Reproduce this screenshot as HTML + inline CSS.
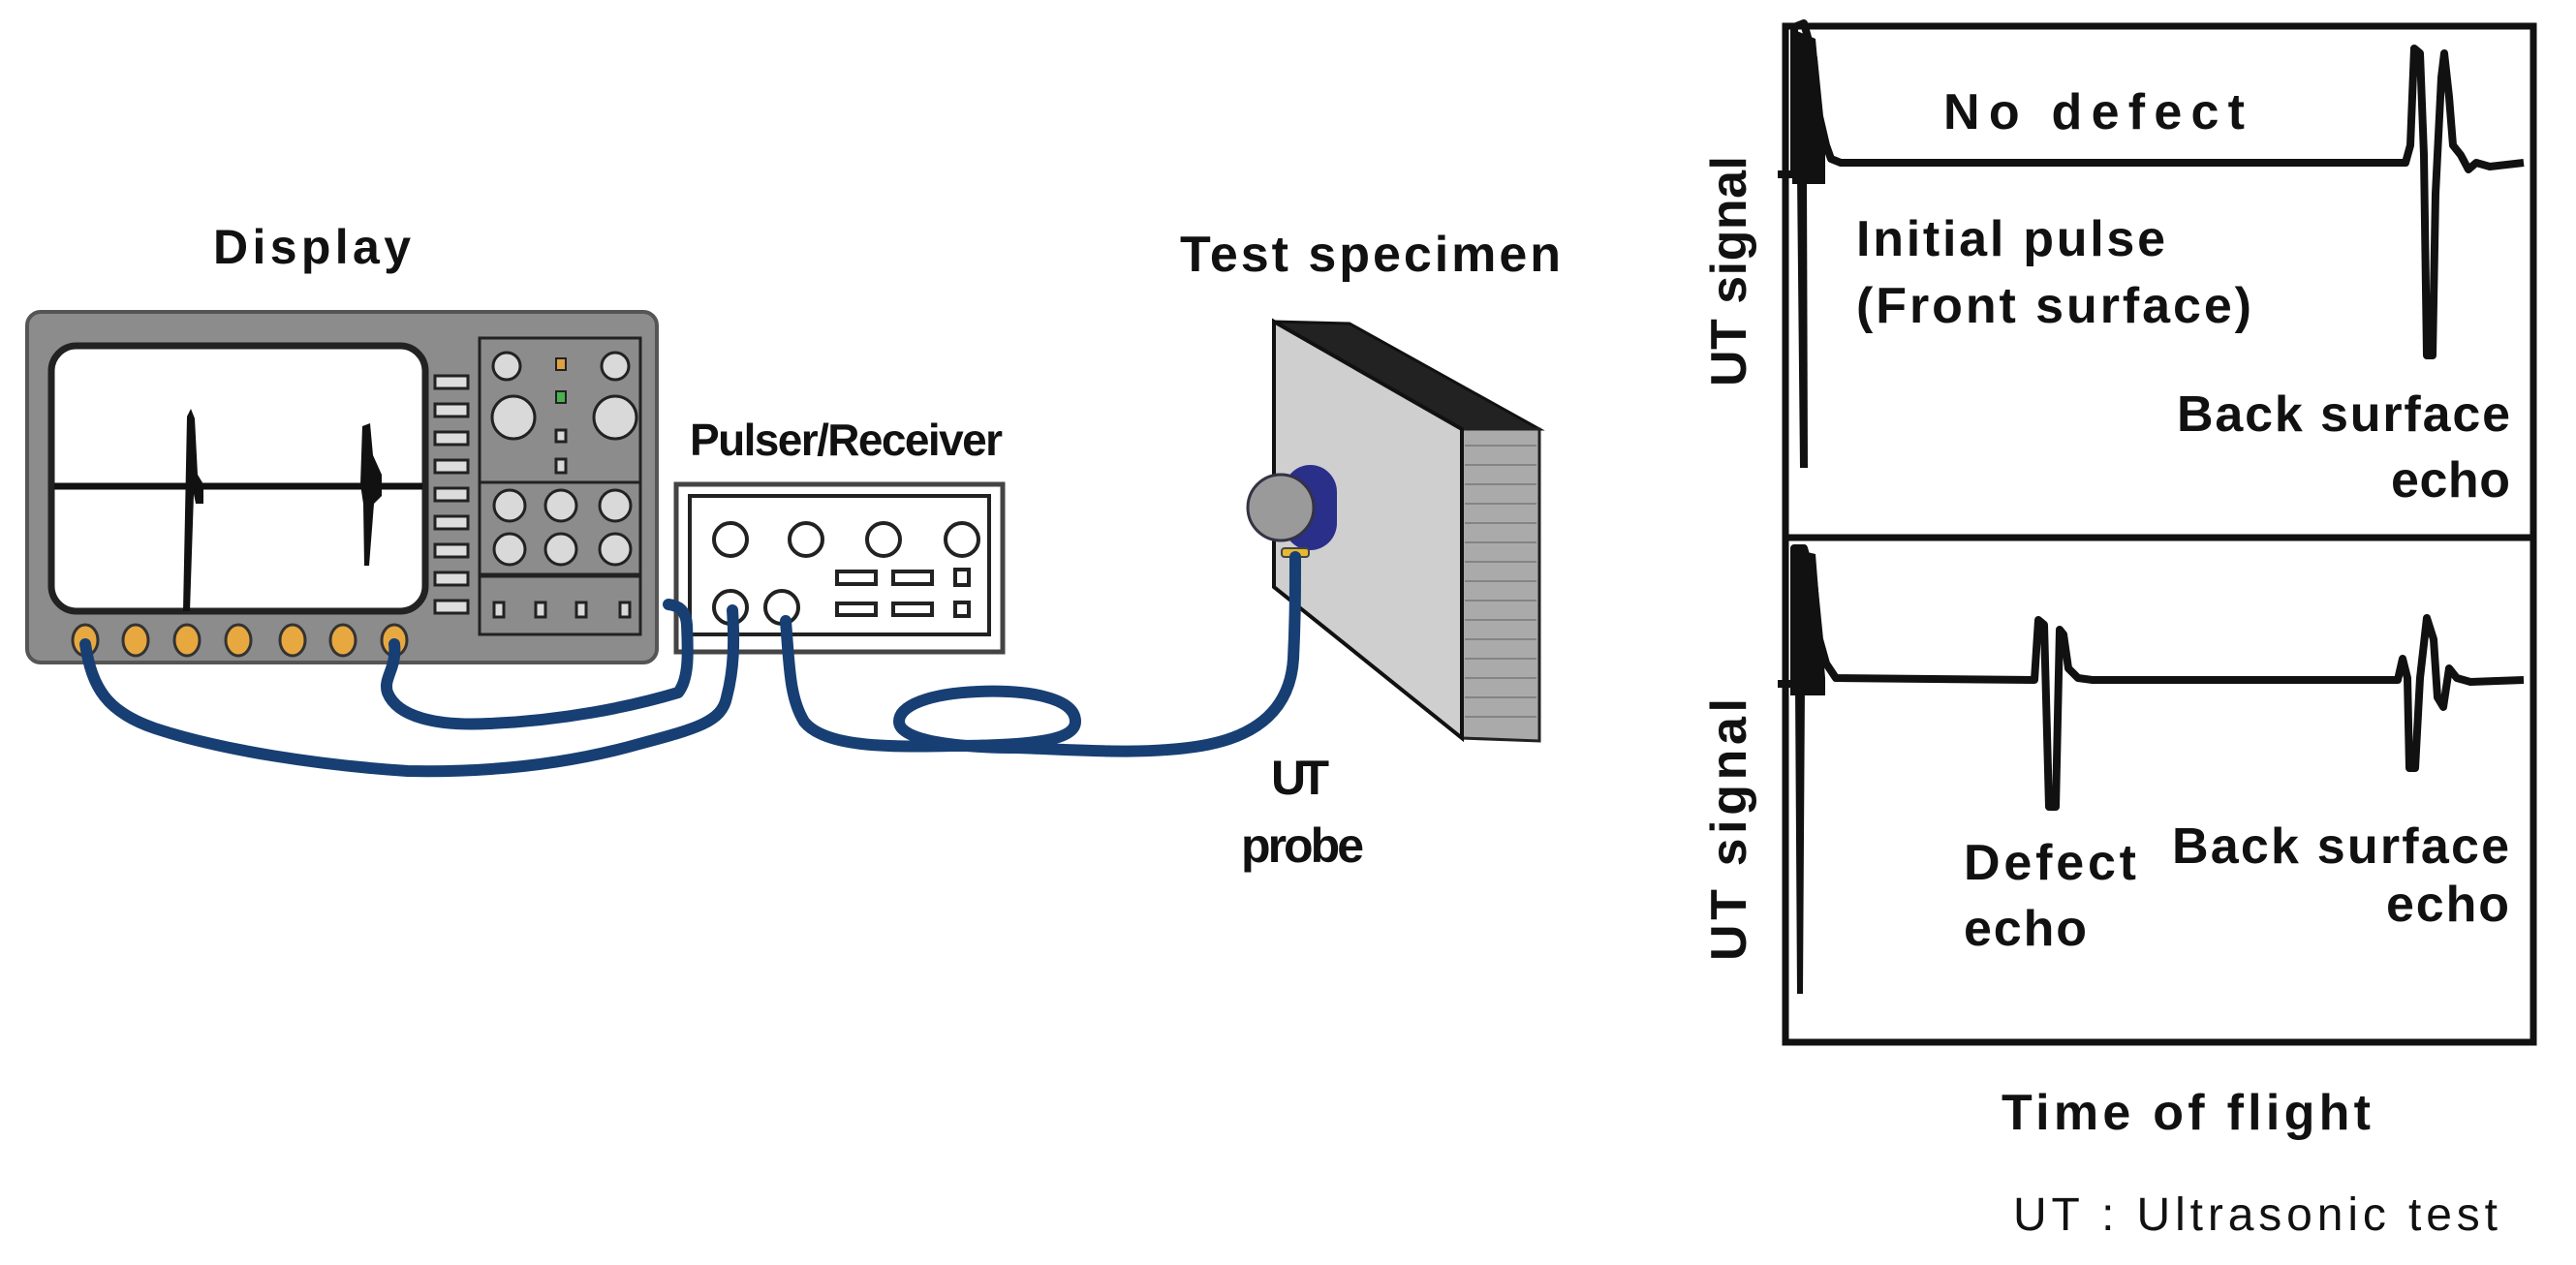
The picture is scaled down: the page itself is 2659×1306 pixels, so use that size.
<!DOCTYPE html>
<html><head><meta charset="utf-8"><style>
html,body{margin:0;padding:0;background:#fff}
svg{display:block}
text{font-family:"Liberation Sans",sans-serif;font-weight:bold;fill:#111}
</style></head><body>
<svg width="2659" height="1306" viewBox="0 0 2659 1306" xmlns="http://www.w3.org/2000/svg">
<!-- Labels left -->
<text x="220" y="272" font-size="50" textLength="204">Display</text>
<text x="712" y="470" font-size="46" textLength="323">Pulser/Receiver</text>
<text x="1218" y="280" font-size="52" textLength="393">Test specimen</text>
<text x="1312" y="820" font-size="50" textLength="60">UT</text>
<text x="1281" y="890" font-size="50" textLength="127">probe</text>

<!-- Oscilloscope -->
<rect x="28" y="322" width="650" height="362" rx="14" fill="#8c8c8c" stroke="#555" stroke-width="4"/>
<rect x="53" y="357" width="386" height="274" rx="26" fill="#fff" stroke="#222" stroke-width="7"/>
<line x1="56" y1="502" x2="436" y2="502" stroke="#111" stroke-width="7"/>
<path d="M189 631 L193 430 L197 422 L201 432 L204 490 L210 500 L210 520 L202 520 L200 510 L196 631 Z" fill="#111"/>
<path d="M372 500 L374 440 L382 437 L385 470 L394 490 L394 512 L386 520 L381 584 L376 584 L375 520 Z" fill="#111"/>
<g fill="#ddd" stroke="#222" stroke-width="3">
<rect x="449" y="388" width="34" height="13"/><rect x="449" y="417" width="34" height="13"/><rect x="449" y="446" width="34" height="13"/><rect x="449" y="475" width="34" height="13"/><rect x="449" y="504" width="34" height="13"/><rect x="449" y="533" width="34" height="13"/><rect x="449" y="562" width="34" height="13"/><rect x="449" y="591" width="34" height="13"/><rect x="449" y="620" width="34" height="13"/>
</g>
<rect x="495" y="349" width="166" height="306" fill="#8c8c8c" stroke="#222" stroke-width="3"/>
<line x1="495" y1="498" x2="661" y2="498" stroke="#222" stroke-width="3"/>
<line x1="495" y1="594" x2="661" y2="594" stroke="#222" stroke-width="5"/>
<g fill="#d9d9d9" stroke="#222" stroke-width="3">
<circle cx="523" cy="378" r="14"/><circle cx="635" cy="378" r="14"/>
<circle cx="530" cy="431" r="22"/><circle cx="635" cy="431" r="22"/>
<circle cx="526" cy="522" r="16"/><circle cx="579" cy="522" r="16"/><circle cx="635" cy="522" r="16"/>
<circle cx="526" cy="567" r="16"/><circle cx="579" cy="567" r="16"/><circle cx="635" cy="567" r="16"/>
<rect x="510" y="622" width="10" height="15"/><rect x="553" y="622" width="10" height="15"/><rect x="595" y="622" width="10" height="15"/><rect x="640" y="622" width="10" height="15"/>
<rect x="574" y="444" width="10" height="12"/><rect x="574" y="474" width="10" height="14"/>
</g>
<rect x="574" y="370" width="10" height="12" fill="#e0a040" stroke="#222" stroke-width="2"/>
<rect x="574" y="404" width="10" height="12" fill="#4caf50" stroke="#222" stroke-width="2"/>
<g fill="#e8a840" stroke="#333" stroke-width="3">
<ellipse cx="88" cy="661" rx="13" ry="16"/><ellipse cx="140" cy="661" rx="13" ry="16"/><ellipse cx="193" cy="661" rx="13" ry="16"/><ellipse cx="246" cy="661" rx="13" ry="16"/><ellipse cx="302" cy="661" rx="13" ry="16"/><ellipse cx="354" cy="661" rx="13" ry="16"/><ellipse cx="407" cy="661" rx="13" ry="16"/>
</g>

<!-- Pulser -->
<rect x="698" y="500" width="337" height="173" fill="#fff" stroke="#444" stroke-width="5"/>
<rect x="712" y="512" width="309" height="143" fill="#fff" stroke="#222" stroke-width="4"/>
<g fill="#fff" stroke="#222" stroke-width="4">
<circle cx="754" cy="557" r="17"/><circle cx="832" cy="557" r="17"/><circle cx="912" cy="557" r="17"/><circle cx="993" cy="557" r="17"/>
<circle cx="754" cy="627" r="17"/><circle cx="807" cy="627" r="17"/>
<rect x="864" y="590" width="40" height="13"/><rect x="922" y="590" width="40" height="13"/><rect x="986" y="588" width="14" height="16"/>
<rect x="864" y="623" width="40" height="12"/><rect x="922" y="623" width="40" height="12"/><rect x="986" y="622" width="14" height="14"/>
</g>

<!-- Specimen -->
<polygon points="1315,332 1393,334 1589,443 1509,443" fill="#222" stroke="#111" stroke-width="3"/>
<polygon points="1509,443 1589,443 1589,765 1509,762" fill="#aaa" stroke="#222" stroke-width="3"/>
<g stroke="#777" stroke-width="1.5">
<line x1="1512" y1="460" x2="1586" y2="460"/><line x1="1512" y1="480" x2="1586" y2="480"/><line x1="1512" y1="500" x2="1586" y2="500"/><line x1="1512" y1="520" x2="1586" y2="520"/><line x1="1512" y1="540" x2="1586" y2="540"/><line x1="1512" y1="560" x2="1586" y2="560"/><line x1="1512" y1="580" x2="1586" y2="580"/><line x1="1512" y1="600" x2="1586" y2="600"/><line x1="1512" y1="620" x2="1586" y2="620"/><line x1="1512" y1="640" x2="1586" y2="640"/><line x1="1512" y1="660" x2="1586" y2="660"/><line x1="1512" y1="680" x2="1586" y2="680"/><line x1="1512" y1="700" x2="1586" y2="700"/><line x1="1512" y1="720" x2="1586" y2="720"/><line x1="1512" y1="740" x2="1586" y2="740"/>
</g>
<polygon points="1315,332 1509,443 1509,762 1315,606" fill="#cfcfcf" stroke="#111" stroke-width="4"/>
<rect x="1325" y="480" width="55" height="88" rx="28" fill="#2a2f8a"/>
<circle cx="1322" cy="524" r="34" fill="#9a9a9a" stroke="#334" stroke-width="3"/>
<rect x="1323" y="566" width="28" height="9" rx="3" fill="#e8b830" stroke="#444" stroke-width="2"/>

<!-- Cables -->
<g fill="none" stroke="#173f73" stroke-width="12" stroke-linecap="round" stroke-linejoin="round">
<path d="M88 665 C95 710 110 735 160 752 C230 775 330 790 421 796 C520 798 600 785 660 768 C720 752 745 745 750 720 C758 690 758 660 756 630"/>
<path d="M407 665 C410 690 395 700 400 715 C410 740 450 750 505 747 C580 744 650 730 700 715 C712 700 710 670 709 645 C708 630 700 625 690 624"/>
<path d="M811 641 C815 690 815 720 830 745 C850 770 910 772 982 770 C1060 770 1110 765 1110 745 C1110 720 1060 712 1010 714 C960 716 928 728 928 745 C928 765 990 772 1050 772 C1110 774 1180 780 1240 770 C1300 760 1332 730 1335 680 C1337 640 1337 610 1337 575"/>
</g>

<!-- Right panels -->
<rect x="1843" y="27" width="772" height="1049" fill="none" stroke="#111" stroke-width="7"/>
<line x1="1843" y1="555" x2="2615" y2="555" stroke="#111" stroke-width="7"/>
<path d="M1835 180 L1852 180 L1852 28 L1862 24 L1872 60 L1878 120 L1885 150 L1890 164 L1900 168 L2483 168 L2488 150 L2492 50 L2498 55 L2502 160 L2505 367 L2511 367 L2514 200 L2520 80 L2523 55 L2528 100 L2532 150 L2540 160 L2548 175 L2556 168 L2570 172 L2605 168" fill="none" stroke="#111" stroke-width="8" stroke-linejoin="round"/>
<path d="M1850 30 L1874 40 L1884 150 L1884 190 L1850 190 Z" fill="#111"/>
<path d="M1855 180 L1865 180 L1866 483 L1858 483 Z" fill="#111"/>
<path d="M1835 706 L1852 706 L1852 566 L1862 566 L1872 600 L1878 660 L1885 685 L1895 700 L2100 702 L2104 640 L2110 645 L2115 833 L2122 833 L2126 650 L2130 655 L2135 690 L2145 700 L2160 702 L2475 702 L2480 680 L2485 700 L2487 793 L2493 793 L2498 700 L2505 638 L2512 660 L2516 720 L2522 730 L2528 690 L2536 700 L2550 704 L2605 702" fill="none" stroke="#111" stroke-width="8" stroke-linejoin="round"/>
<path d="M1848 566 L1874 572 L1884 700 L1884 718 L1848 718 Z" fill="#111"/>
<path d="M1853 706 L1863 706 L1861 1026 L1855 1026 Z" fill="#111"/>

<text x="2006" y="133" font-size="52" textLength="311">No defect</text>
<text x="1916" y="264" font-size="52" textLength="319">Initial pulse</text>
<text x="1916" y="333" font-size="52" textLength="408">(Front surface)</text>
<text x="2247" y="445" font-size="52" textLength="344">Back surface</text>
<text x="2468" y="513" font-size="52" textLength="123">echo</text>
<text x="2027" y="908" font-size="52" textLength="178">Defect</text>
<text x="2027" y="976" font-size="52" textLength="127">echo</text>
<text x="2242" y="891" font-size="52" textLength="348">Back surface</text>
<text x="2463" y="951" font-size="52" textLength="127">echo</text>
<text x="2066" y="1166" font-size="52" textLength="381">Time of flight</text>
<text x="2078" y="1270" font-size="48" textLength="500" style="font-weight:normal">UT : Ultrasonic test</text>
<text transform="translate(1802,399) rotate(-90)" font-size="52" textLength="238">UT signal</text>
<text transform="translate(1802,992) rotate(-90)" font-size="52" textLength="271">UT signal</text>
</svg>
</body></html>
